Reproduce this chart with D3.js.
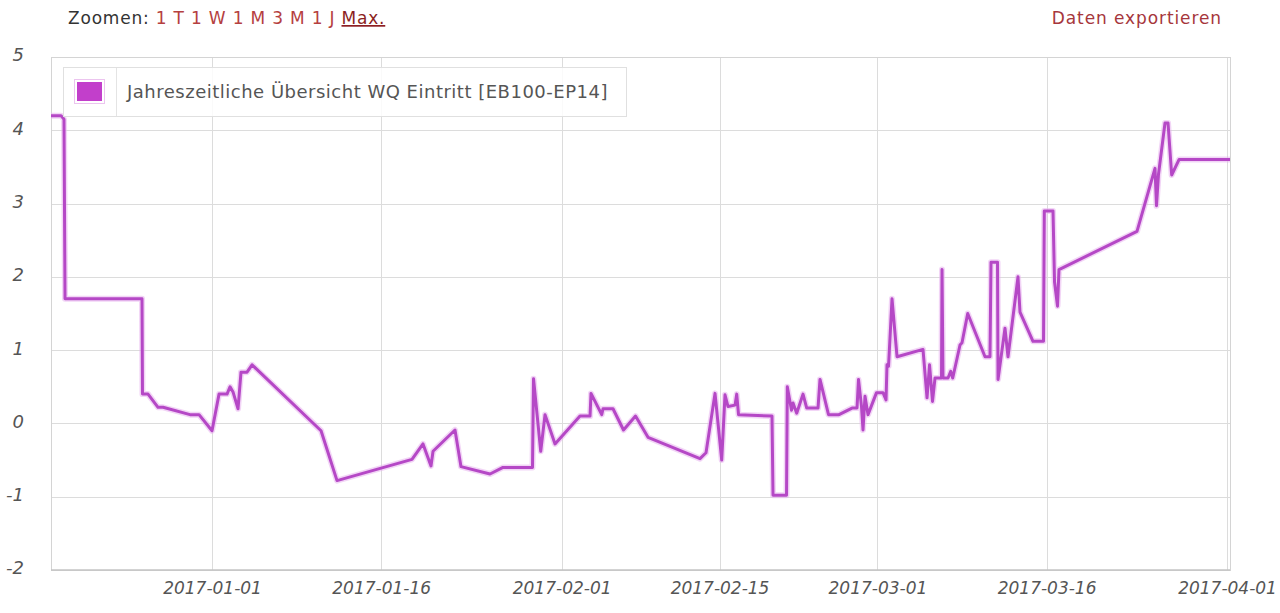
<!DOCTYPE html>
<html>
<head>
<meta charset="utf-8">
<script src="https://cdn.jsdelivr.net/npm/d3@7/dist/d3.min.js"></script>
<style>
  html, body { margin: 0; padding: 0; background: #fff; }
  svg { display: block; }
  text { font-family: "DejaVu Sans", Verdana, sans-serif; }
</style>
</head>
<body>
<svg id="chart" width="1280" height="613"></svg>
<script>
// ---- data ----
const seriesName = "Jahreszeitliche Übersicht WQ Eintritt [EB100-EP14]";
const dates = [
  "2016-12-17T17:20","2016-12-18T14:40","2016-12-18T21:00","2016-12-18T23:10",
  "2016-12-25T19:00","2016-12-25T20:00","2016-12-26T07:50","2016-12-27T05:05",
  "2016-12-27T15:45","2016-12-30T01:10","2016-12-30T20:20","2017-01-01T00:00",
  "2017-01-01T14:55","2017-01-02T07:55","2017-01-02T14:20","2017-01-02T20:40",
  "2017-01-03T07:20","2017-01-03T13:40","2017-01-04T02:30","2017-01-04T13:10",
  "2017-01-10T16:00","2017-01-12T02:00","2017-01-18T17:35","2017-01-19T17:00",
  "2017-01-20T10:00","2017-01-20T14:20","2017-01-22T13:05","2017-01-23T01:50",
  "2017-01-25T15:35","2017-01-26T19:15","2017-01-29T10:00","2017-01-29T12:10",
  "2017-01-30T03:30","2017-01-30T12:40","2017-01-31T09:55","2017-02-02T15:05",
  "2017-02-03T12:25","2017-02-03T14:30","2017-02-04T13:20","2017-02-04T16:05",
  "2017-02-05T13:20","2017-02-06T11:40","2017-02-07T13:15","2017-02-08T15:50",
  "2017-02-13T06:30","2017-02-13T19:15","2017-02-14T14:25","2017-02-15T04:40",
  "2017-02-15T11:40","2017-02-15T18:05","2017-02-16T09:00","2017-02-16T12:35",
  "2017-02-16T16:25","2017-02-19T15:40","2017-02-19T17:50","2017-02-20T22:35",
  "2017-02-21T00:15","2017-02-21T09:10","2017-02-21T12:25","2017-02-21T20:15",
  "2017-02-22T09:40","2017-02-22T17:35","2017-02-23T17:35","2017-02-23T21:50",
  "2017-02-24T15:55","2017-02-25T14:15","2017-02-26T18:00","2017-02-27T04:35",
  "2017-02-27T07:45","2017-02-27T14:10","2017-02-27T17:20","2017-02-27T21:35",
  "2017-02-28T04:00","2017-02-28T22:05","2017-03-01T11:55","2017-03-01T18:20",
  "2017-03-01T20:25","2017-03-01T23:40","2017-03-02T07:05","2017-03-02T17:45",
  "2017-03-05T01:00","2017-03-05T09:35","2017-03-05T14:55","2017-03-05T21:15",
  "2017-03-06T02:35","2017-03-06T16:25","2017-03-06T17:30","2017-03-06T19:35",
  "2017-03-07T06:15","2017-03-07T12:00","2017-03-07T16:15","2017-03-08T07:45",
  "2017-03-08T12:00","2017-03-09T00:10","2017-03-10T13:00","2017-03-10T23:35",
  "2017-03-11T01:45","2017-03-11T15:35","2017-03-11T16:40","2017-03-12T07:30",
  "2017-03-12T13:55","2017-03-13T11:10","2017-03-13T15:25","2017-03-14T19:05",
  "2017-03-15T17:30","2017-03-15T19:10","2017-03-16T13:40","2017-03-16T16:55",
  "2017-03-16T23:15","2017-03-17T02:25","2017-03-24T00:25","2017-03-25T14:45",
  "2017-03-25T17:55","2017-03-25T22:10","2017-03-26T12:00","2017-03-26T18:25",
  "2017-03-27T02:15","2017-03-27T17:50","2017-04-01T06:20"
];
const values = [
  4.2, 4.2, 4.15, 1.7,
  1.7, 0.4, 0.4, 0.22,
  0.22, 0.12, 0.12, -0.1,
  0.4, 0.4, 0.5, 0.43,
  0.2, 0.7, 0.7, 0.8,
  -0.1, -0.78, -0.49, -0.28,
  -0.58, -0.38, -0.09, -0.59,
  -0.69, -0.6, -0.6, 0.61,
  -0.38, 0.12, -0.28, 0.1,
  0.1, 0.41, 0.12, 0.2,
  0.2, -0.09, 0.1, -0.19,
  -0.48, -0.4, 0.41, -0.5,
  0.39, 0.23, 0.25, 0.4,
  0.12, 0.1, -0.98, -0.98,
  0.5, 0.18, 0.28, 0.14,
  0.4, 0.21, 0.21, 0.6,
  0.12, 0.12, 0.21, 0.21,
  0.6, 0.23, -0.09, 0.37,
  0.12, 0.42, 0.42, 0.32,
  0.8, 0.78, 1.7, 0.91,
  1.01, 0.35, 0.8, 0.3,
  0.62, 0.62, 2.1, 0.62,
  0.62, 0.71, 0.62, 1.07,
  1.1, 1.5, 0.91, 0.91,
  2.2, 2.2, 0.6, 1.3,
  0.91, 2.0, 1.52, 1.12,
  1.12, 2.9, 2.9, 1.93,
  1.6, 2.1, 2.62, 3.48,
  2.97, 3.4, 4.1, 4.1,
  3.39, 3.6, 3.6
];
const xDomain = ["2016-12-17T17:20", "2017-04-01T06:20"];
const xTickLabels = ["2017-01-01","2017-01-16","2017-02-01","2017-02-15","2017-03-01","2017-03-16","2017-04-01"];
const yTickValues = [-2, -1, 0, 1, 2, 3, 4, 5];
const zoomLabel = "Zoomen:";
const zoomOptions = ["1 T", "1 W", "1 M", "3 M", "1 J"];
const zoomActive = "Max.";
const exportLabel = "Daten exportieren";

// ---- layout ----
const plot = { left: 51, right: 1230, top: 57, bottom: 570 };
const parse = d3.isoParse;
const lineColor = "#b548c6";

const svg = d3.select("#chart");

const x = d3.scaleTime()
  .domain(xDomain.map(parse))
  .range([plot.left, plot.right]);
const y = d3.scaleLinear()
  .domain([d3.min(yTickValues), d3.max(yTickValues)])
  .range([plot.bottom, plot.top]);

const data = dates.map((d, i) => ({ date: parse(d), value: values[i] }));

// horizontal grid
const yAxis = d3.axisLeft(y)
  .tickValues(yTickValues)
  .tickSize(-(plot.right - plot.left))
  .tickPadding(27)
  .tickFormat(d => String(d));
const gy = svg.append("g")
  .attr("transform", `translate(${plot.left},0)`)
  .call(yAxis);
gy.select(".domain").attr("stroke", "#d4d4d4");
gy.selectAll(".tick line").attr("stroke", "#dcdcdc").attr("shape-rendering", "crispEdges");
gy.selectAll(".tick text")
  .attr("fill", "#555")
  .attr("font-size", 18)
  .attr("font-style", "italic")
  .attr("dy", "0.22em");

// vertical grid + labels
const xAxis = d3.axisBottom(x)
  .tickValues(xTickLabels.map(parse))
  .tickSize(-(plot.bottom - plot.top))
  .tickPadding(12)
  .tickFormat(d3.timeFormat("%Y-%m-%d"));
const gx = svg.append("g")
  .attr("transform", `translate(0,${plot.bottom})`)
  .call(xAxis);
gx.select(".domain").attr("stroke", "#c8c8c8");
gx.selectAll(".tick line").attr("stroke", "#dcdcdc").attr("shape-rendering", "crispEdges");
gx.selectAll(".tick text")
  .attr("fill", "#555")
  .attr("font-size", 17)
  .attr("font-style", "italic");

// plot border
svg.append("rect")
  .attr("x", plot.left).attr("y", plot.top)
  .attr("width", plot.right - plot.left).attr("height", plot.bottom - plot.top)
  .attr("fill", "none").attr("stroke", "#d4d4d4")
  .attr("shape-rendering", "crispEdges");
svg.append("line")
  .attr("x1", plot.left).attr("x2", plot.right)
  .attr("y1", plot.bottom).attr("y2", plot.bottom)
  .attr("stroke", "#c4c4c4").attr("stroke-width", 1.5);

// line with soft glow
const line = d3.line().x(d => x(d.date)).y(d => y(d.value));
svg.append("path").datum(data)
  .attr("d", line)
  .attr("fill", "none")
  .attr("stroke", "#e7b3ee")
  .attr("stroke-width", 6)
  .attr("stroke-opacity", 0.55)
  .attr("stroke-linejoin", "round");
svg.append("path").datum(data)
  .attr("d", line)
  .attr("fill", "none")
  .attr("stroke", lineColor)
  .attr("stroke-width", 3)
  .attr("stroke-linejoin", "round");

// legend
const lg = svg.append("g");
lg.append("rect")
  .attr("x", 63.5).attr("y", 67.5).attr("width", 563).attr("height", 49)
  .attr("fill", "rgba(255,255,255,0.85)").attr("stroke", "#e0e0e0");
lg.append("line")
  .attr("x1", 116.5).attr("x2", 116.5).attr("y1", 68).attr("y2", 116)
  .attr("stroke", "#e4e4e4");
lg.append("rect")
  .attr("x", 74.5).attr("y", 79.5).attr("width", 30).attr("height", 24)
  .attr("fill", "#fff").attr("stroke", "#ecc4ef");
lg.append("rect")
  .attr("x", 77).attr("y", 82).attr("width", 25).attr("height", 19)
  .attr("fill", "#c23fcb");
lg.append("text")
  .attr("x", 127).attr("y", 92).attr("dy", "0.35em")
  .attr("fill", "#555").attr("font-size", 18)
  .attr("letter-spacing", 0.5)
  .text(seriesName);

// top controls
const zt = svg.append("text")
  .attr("x", 68).attr("y", 24)
  .attr("font-size", 17)
  .attr("letter-spacing", 0.8);
zt.append("tspan").attr("fill", "#333").text(zoomLabel);
zoomOptions.forEach(o => {
  zt.append("tspan").attr("fill", "#b5403f").text(" " + o);
});
zt.append("tspan").text(" ");
zt.append("tspan").attr("fill", "#8c1f23").attr("text-decoration", "underline").text(zoomActive);

svg.append("text")
  .attr("x", 1222).attr("y", 24)
  .attr("text-anchor", "end")
  .attr("font-size", 17)
  .attr("letter-spacing", 0.9)
  .attr("fill", "#a6363c")
  .text(exportLabel);
</script>
</body>
</html>
